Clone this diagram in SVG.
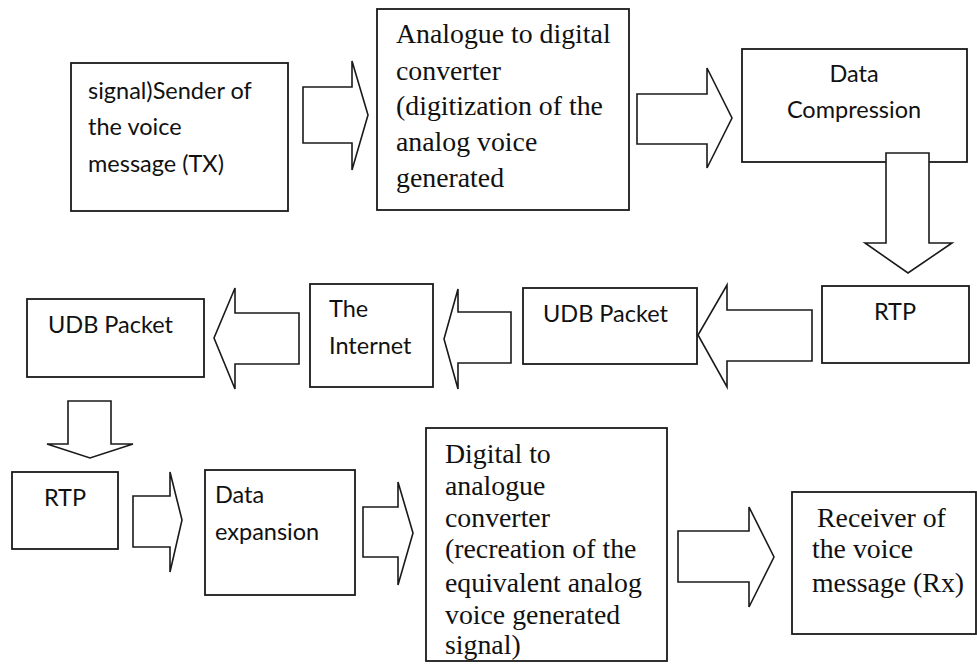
<svg xmlns="http://www.w3.org/2000/svg" width="977" height="669" viewBox="0 0 977 669">
<style>
.box{fill:#fff;stroke:#1a1a1a;stroke-width:1.8}
.arr{fill:#fff;stroke:#1a1a1a;stroke-width:1.6;stroke-linejoin:miter}
.s{font-family:Lato,"Liberation Sans",sans-serif;font-size:23.5px;fill:#111}
.r{font-family:"Liberation Serif","Times New Roman",serif;font-size:27.8px;fill:#111}
.m{text-anchor:middle}
</style>
<rect width="977" height="669" fill="#fff"/>
<g id="sender">
<rect class="box" x="71" y="63" width="217" height="148"/>
<text class="s" x="88" y="99">signal)Sender of</text>
<text class="s" x="88" y="135">the voice</text>
<text class="s" x="88" y="172">message (TX)</text>
</g>
<g id="adc">
<rect class="box" x="377" y="9" width="252" height="201"/>
<text class="r" x="396" y="43">Analogue to digital</text>
<text class="r" x="396" y="80">converter</text>
<text class="r" x="396" y="115">(digitization of the</text>
<text class="r" x="396" y="151">analog voice</text>
<text class="r" x="396" y="187">generated</text>
</g>
<g id="compression">
<rect class="box" x="742" y="49" width="225" height="113"/>
<text class="s m" x="854" y="82">Data</text>
<text class="s m" x="854" y="118">Compression</text>
</g>
<g id="rtp1">
<rect class="box" x="822" y="286" width="147" height="77"/>
<text class="s m" x="895" y="320">RTP</text>
</g>
<g id="udb1">
<rect class="box" x="523" y="288" width="174" height="76"/>
<text class="s" x="543" y="322">UDB Packet</text>
</g>
<g id="internet">
<rect class="box" x="310" y="284" width="123" height="103"/>
<text class="s" x="329" y="317">The</text>
<text class="s" x="329" y="354">Internet</text>
</g>
<g id="udb2">
<rect class="box" x="27" y="299" width="177" height="78"/>
<text class="s" x="48" y="333">UDB Packet</text>
</g>
<g id="rtp2">
<rect class="box" x="12" y="472" width="106" height="77"/>
<text class="s m" x="65" y="506">RTP</text>
</g>
<g id="expansion">
<rect class="box" x="205" y="470" width="150" height="125"/>
<text class="s" x="215" y="503">Data</text>
<text class="s" x="215" y="540">expansion</text>
</g>
<g id="dac">
<rect class="box" x="426" y="428" width="241" height="233"/>
<text class="r" x="445" y="463">Digital to</text>
<text class="r" x="445" y="495">analogue</text>
<text class="r" x="445" y="527">converter</text>
<text class="r" x="445" y="558">(recreation of the</text>
<text class="r" x="445" y="592">equivalent analog</text>
<text class="r" x="445" y="624">voice generated</text>
<text class="r" x="445" y="654">signal)</text>
</g>
<g id="receiver">
<rect class="box" x="792" y="492" width="184" height="142"/>
<text class="r" x="817" y="527">Receiver of</text>
<text class="r" x="812" y="558">the voice</text>
<text class="r" x="812" y="592">message (Rx)</text>
</g>
<g id="connectors">
<polygon class="arr" points="303,87 352,87 352,61 368,115 352,170 352,143 303,143"/>
<polygon class="arr" points="637,94 707,94 707,68 732,118 707,168 707,144 637,144"/>
<polygon class="arr" points="886,153 929,153 929,243 952,243 908,273 865,243 886,243"/>
<polygon class="arr" points="812,310 727,310 727,285 698,335 727,387 727,361 812,361"/>
<polygon class="arr" points="511,312 458,312 458,289 444,339 458,389 458,363 511,363"/>
<polygon class="arr" points="299,313 235,313 235,288 214,338 235,389 235,364 299,364"/>
<polygon class="arr" points="68,401 111,401 111,444 133,444 90,458 47,444 68,444"/>
<polygon class="arr" points="133,496 170,496 170,472 182,520 170,572 170,547 133,547"/>
<polygon class="arr" points="363,507 398,507 398,482 413,533 398,585 398,557 363,557"/>
<polygon class="arr" points="678,531 749,531 749,507 774,557 749,607 749,582 678,582"/>
</g>
</svg>
